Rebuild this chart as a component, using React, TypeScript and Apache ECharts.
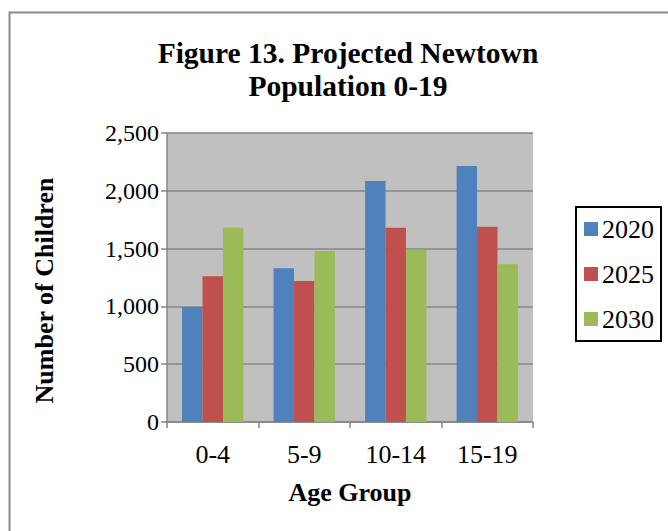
import React, { useEffect, useRef } from "react";
import * as echarts from "echarts";

const categories = ["0-4", "5-9", "10-14", "15-19"];
const seriesNames = ["2020", "2025", "2030"];
const values2020 = [995, 1330, 2085, 2215];
const values2025 = [1260, 1220, 1680, 1690];
const values2030 = [1680, 1480, 1490, 1365];
const colors = ["#4F81BD", "#C0504D", "#9BBB59"];

const FONT = "'Liberation Serif', 'Times New Roman', serif";

export default function App() {
  const ref = useRef<HTMLDivElement>(null);
  useEffect(() => {
    if (!ref.current) return;
    const chart = echarts.init(ref.current, null, { renderer: "svg" });
    const data = [values2020, values2025, values2030];
    chart.setOption({
      animation: false,
      backgroundColor: "#ffffff",
      textStyle: { fontFamily: FONT },
      title: {
        text: "Figure 13. Projected Newtown\nPopulation 0-19",
        left: 343,
        top: 31,
        textAlign: "center",
        textStyle: {
          fontFamily: FONT,
          fontWeight: "bold",
          fontSize: 29.5,
          lineHeight: 33,
          color: "#000",
        },
      },
      graphic: [
        {
          type: "rect",
          shape: { x: 9.5, y: 12.5, width: 700, height: 600 },
          style: { fill: "none", stroke: "#8a8a8a", lineWidth: 2 },
          silent: true,
          z: 0,
        },
      ],
      legend: {
        orient: "vertical",
        left: 576,
        top: 207,
        data: seriesNames,
        icon: "rect",
        itemWidth: 14,
        itemHeight: 14,
        itemGap: 19,
        padding: [9, 7, 9, 8],
        borderColor: "#000",
        borderWidth: 2,
        backgroundColor: "#fff",
        textStyle: { fontFamily: FONT, fontSize: 26, lineHeight: 26, color: "#000", padding: [0, 0, 0, -1] },
      },
      grid: {
        left: 167,
        top: 133,
        width: 366,
        height: 289,
        show: true,
        backgroundColor: "#C0C0C0",
        borderWidth: 0,
      },
      xAxis: {
        type: "category",
        data: categories,
        name: "Age Group",
        nameLocation: "middle",
        nameGap: 57,
        nameTextStyle: { fontFamily: FONT, fontWeight: "bold", fontSize: 26, color: "#000" },
        axisLine: { lineStyle: { color: "#868686", width: 1.5 } },
        axisTick: { show: true, length: 6, lineStyle: { color: "#868686", width: 1.5 } },
        axisLabel: { fontFamily: FONT, fontSize: 26, color: "#000", margin: 19 },
      },
      yAxis: {
        type: "value",
        min: 0,
        max: 2500,
        interval: 500,
        name: "Number of Children",
        nameLocation: "middle",
        nameGap: 110,
        nameRotate: 90,
        nameTextStyle: {
          fontFamily: FONT,
          fontWeight: "bold",
          fontSize: 26,
          color: "#000",
          padding: [0, 26, 0, 0],
        },
        axisLine: { show: true, lineStyle: { color: "#868686", width: 1.5 } },
        axisTick: { show: true, length: 6, lineStyle: { color: "#868686", width: 1.5 } },
        axisLabel: {
          fontFamily: FONT,
          fontSize: 24,
          color: "#000",
          margin: 8,
          formatter: (v: number) => v.toLocaleString("en-US"),
        },
        splitLine: { lineStyle: { color: "#868686", width: 1.5 } },
      },
      series: seriesNames.map((name, i) => ({
        name,
        type: "bar",
        data: data[i],
        barGap: "0%",
        barCategoryGap: "33%",
        itemStyle: { color: colors[i] },
      })),
    });
    return () => chart.dispose();
  }, []);
  return (
    <div
      ref={ref}
      style={{ position: "absolute", left: 0, top: 0, width: 668, height: 531 }}
    />
  );
}
